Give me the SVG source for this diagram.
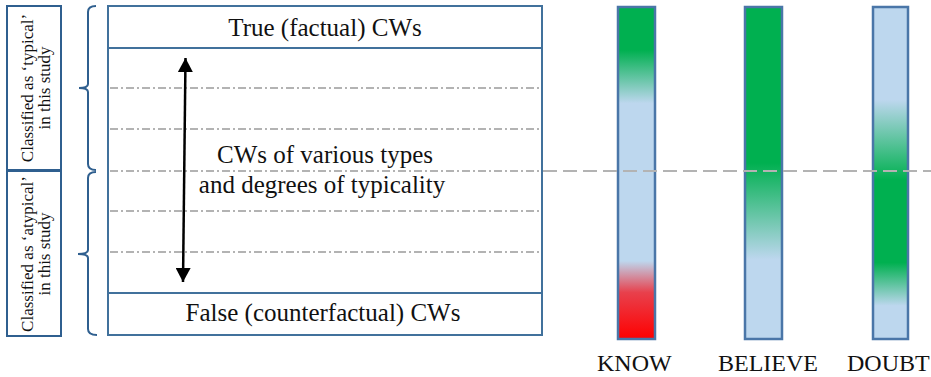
<svg xmlns="http://www.w3.org/2000/svg" width="931" height="377" viewBox="0 0 931 377">
  <style>
    text { font-family: "Liberation Serif", "Times New Roman", serif; fill: #111; }
    .main { font-size: 25px; }
    .side { font-size: 17px; }
    .verb { font-size: 24px; }
    .frame { fill: #fff; stroke: #41719c; stroke-width: 2; }
    .label-box { fill: #fff; stroke: #2f5f8f; stroke-width: 2; }
    .brace { fill: none; stroke: #2f5f8f; stroke-width: 2; }
    .divider { stroke: #41719c; stroke-width: 2; }
    .level { stroke: #b3b3b3; stroke-width: 2; stroke-dasharray: 8 3 2 3; }
    .threshold { stroke: #b3b3b3; stroke-width: 2; stroke-dasharray: 14 6; }
    .bar { stroke: #4a76a8; stroke-width: 2.5; }
  </style>
  <defs>
    <marker id="head" markerUnits="userSpaceOnUse" markerWidth="15" markerHeight="15" viewBox="0 0 14 15" refX="14" refY="7.5" orient="auto-start-reverse">
      <path d="M0,0 L14,7.5 L0,15 z" fill="#000"/>
    </marker>
    <linearGradient id="g-know" x1="0" y1="0" x2="0" y2="1">
      <stop offset="0" stop-color="#00b050"/>
      <stop offset="0.13" stop-color="#00b050"/>
      <stop offset="0.29" stop-color="#bdd7ee"/>
      <stop offset="0.765" stop-color="#bdd7ee"/>
      <stop offset="0.86" stop-color="#e8404c"/>
      <stop offset="1" stop-color="#ff0000"/>
    </linearGradient>
    <linearGradient id="g-believe" x1="0" y1="0" x2="0" y2="1">
      <stop offset="0" stop-color="#00b050"/>
      <stop offset="0.47" stop-color="#00b050"/>
      <stop offset="0.76" stop-color="#bdd7ee"/>
      <stop offset="1" stop-color="#bdd7ee"/>
    </linearGradient>
    <linearGradient id="g-doubt" x1="0" y1="0" x2="0" y2="1">
      <stop offset="0" stop-color="#bdd7ee"/>
      <stop offset="0.28" stop-color="#bdd7ee"/>
      <stop offset="0.52" stop-color="#00b050"/>
      <stop offset="0.77" stop-color="#00b050"/>
      <stop offset="0.9" stop-color="#bdd7ee"/>
      <stop offset="1" stop-color="#bdd7ee"/>
    </linearGradient>
  </defs>

  <!-- side classification labels -->
  <g id="label-typical">
    <rect class="label-box" x="7" y="6" width="54" height="164"/>
    <g transform="translate(0,88) rotate(-90)">
      <text class="side" x="0" y="33" text-anchor="middle">Classified as ‘typical’</text>
      <text class="side" x="0" y="50" text-anchor="middle">in this study</text>
    </g>
  </g>
  <g id="label-atypical">
    <rect class="label-box" x="7" y="171" width="54" height="165"/>
    <g transform="translate(0,254) rotate(-90)">
      <text class="side" x="0" y="33" text-anchor="middle">Classified as ‘atypical’</text>
      <text class="side" x="0" y="50" text-anchor="middle">in this study</text>
    </g>
  </g>

  <!-- curly braces -->
  <g id="brace-typical">
    <path class="brace" d="M96,6 Q88,6 88,12 L88,84 Q88,88 79,88 Q88,88 88,92 L88,164 Q88,170 96,170"/>
  </g>
  <g id="brace-atypical">
    <path class="brace" d="M96,172 Q88,172 88,178 L88,250 Q88,254 78,254 Q88,254 88,258 L88,329 Q88,335 97,335"/>
  </g>

  <!-- main scale of counterfactual wishes -->
  <g id="scale">
    <rect class="frame" x="108" y="6" width="434" height="329"/>
    <line class="divider" x1="108" y1="48" x2="542" y2="48"/>
    <line class="divider" x1="108" y1="293" x2="542" y2="293"/>
    <line class="level" x1="110" y1="88" x2="540" y2="88"/>
    <line class="level" x1="110" y1="129" x2="540" y2="129"/>
    <line class="level" x1="110" y1="171" x2="540" y2="171"/>
    <line class="level" x1="110" y1="211" x2="540" y2="211"/>
    <line class="level" x1="110" y1="252" x2="540" y2="252"/>
    <text class="main" x="325" y="36" text-anchor="middle">True (factual) CWs</text>
    <text class="main" x="325" y="163" text-anchor="middle">CWs of various types</text>
    <text class="main" x="322" y="193" text-anchor="middle">and degrees of typicality</text>
    <text class="main" x="323" y="321" text-anchor="middle">False (counterfactual) CWs</text>
  </g>

  <!-- verb bars -->
  <g id="bar-know">
    <rect class="bar" x="618" y="7" width="37" height="332" fill="url(#g-know)"/>
    <text class="verb" x="597" y="371">KNOW</text>
  </g>
  <g id="bar-believe">
    <rect class="bar" x="745" y="7" width="37" height="332" fill="url(#g-believe)"/>
    <text class="verb" x="718" y="371">BELIEVE</text>
  </g>
  <g id="bar-doubt">
    <rect class="bar" x="873" y="7" width="35" height="332" fill="url(#g-doubt)"/>
    <text class="verb" x="847" y="371">DOUBT</text>
  </g>

  <!-- connectors -->
  <g id="connectors">
    <line x1="185.5" y1="58" x2="183" y2="282" stroke="#000" stroke-width="2.5" marker-start="url(#head)" marker-end="url(#head)"/>
    <line class="threshold" x1="543" y1="171" x2="931" y2="171"/>
  </g>
</svg>
